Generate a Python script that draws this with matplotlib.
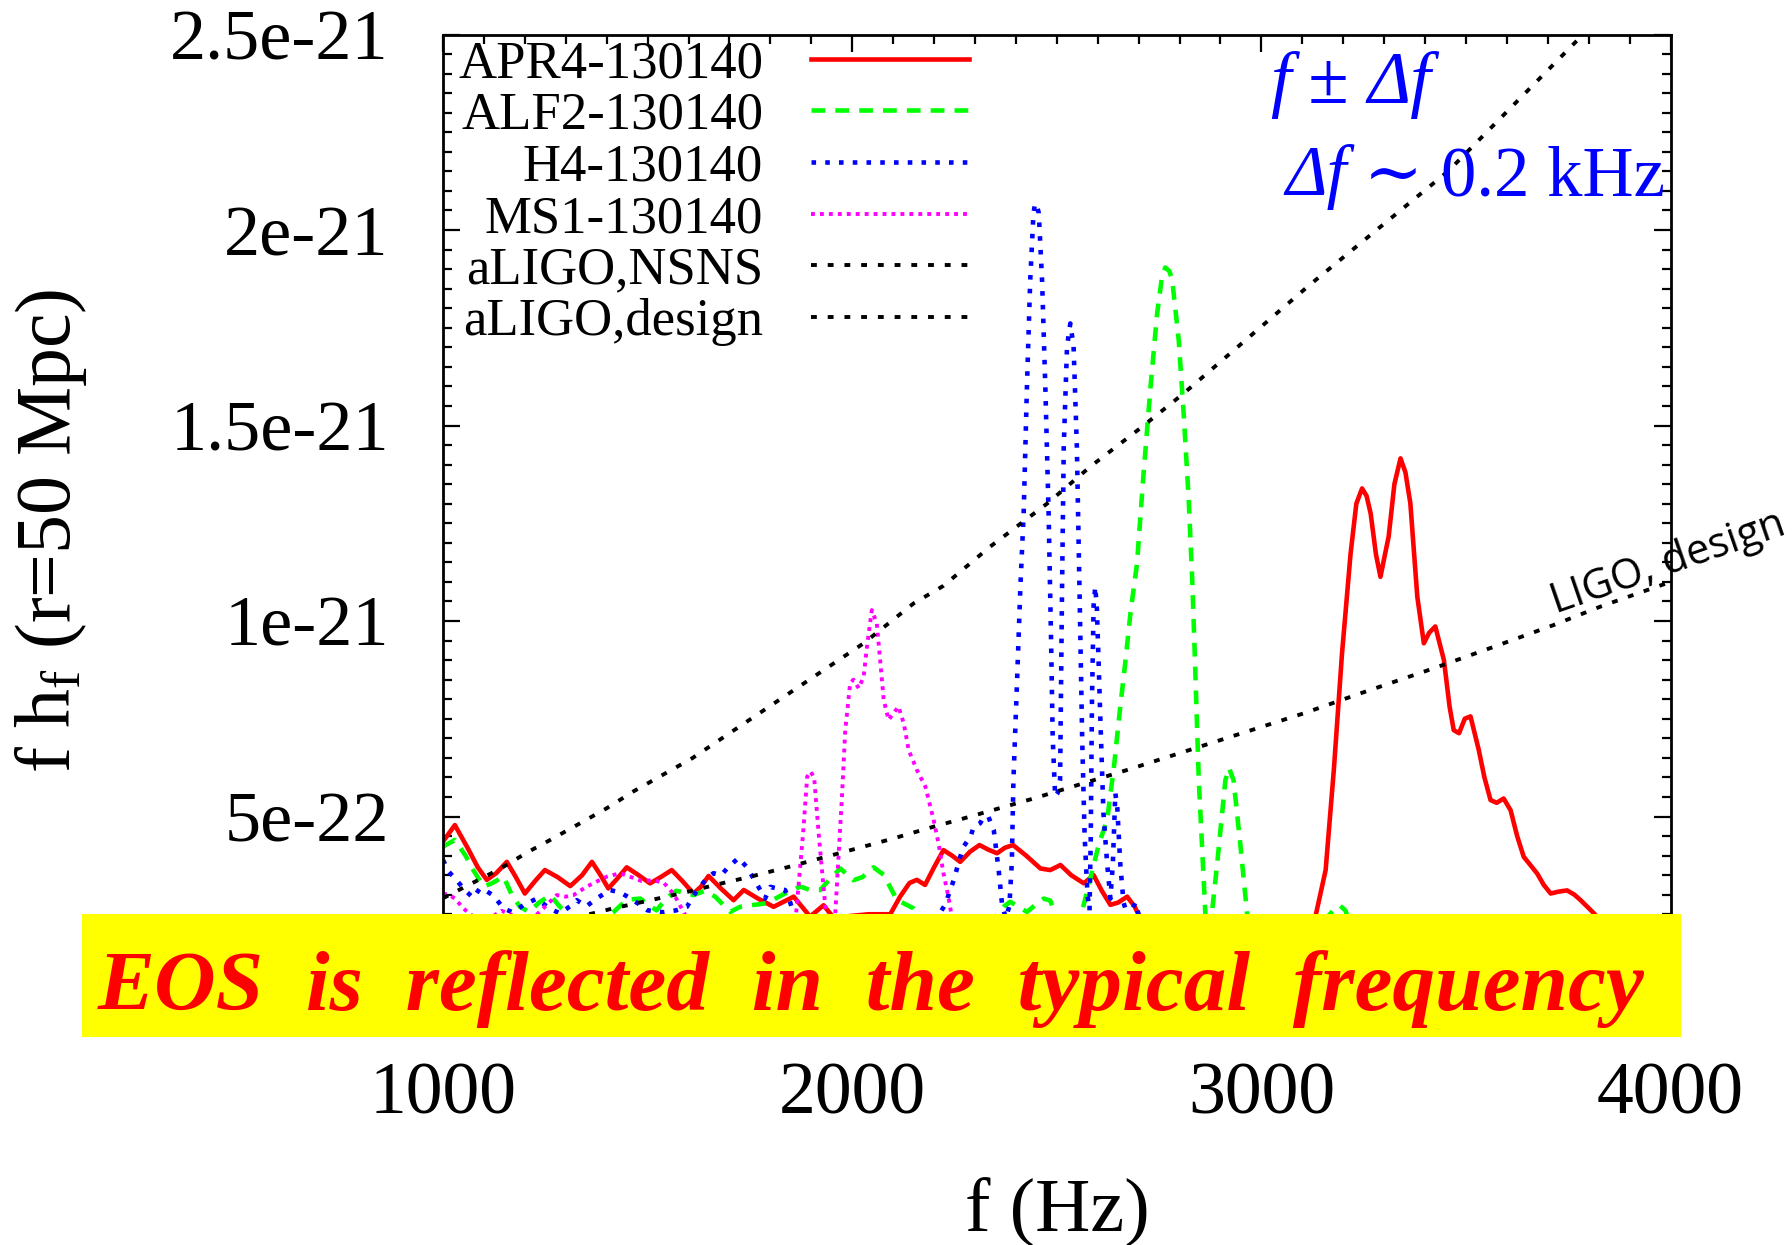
import matplotlib
matplotlib.use("Agg")
import matplotlib.pyplot as plt
from matplotlib.patches import Rectangle
from matplotlib.ticker import MultipleLocator

# ---------------- data (values in units of 1e-22) ----------------
apr4_f = [1000, 1029, 1060, 1085, 1107, 1130, 1156, 1178, 1200, 1225, 1249, 1280, 1311, 1340,
          1364, 1385, 1404, 1425, 1449, 1478, 1506, 1532, 1559, 1585, 1612, 1630, 1649, 1680,
          1710, 1735, 1770, 1808, 1857, 1897, 1930, 1963, 1990, 2040, 2093, 2117, 2140, 2158,
          2178, 2200, 2223, 2244, 2264, 2288, 2311, 2333, 2354, 2373, 2393, 2425, 2460, 2484,
          2509, 2535, 2566, 2590, 2610, 2631, 2650, 2672, 2690, 2704, 2730, 2800, 2900, 3000,
          3080, 3132, 3157, 3177, 3197, 3218, 3232, 3246, 3257, 3267, 3280, 3291, 3300, 3311,
          3325, 3340, 3352, 3364, 3381, 3397, 3410, 3425, 3446, 3460, 3470, 3483, 3497, 3511,
          3531, 3545, 3560, 3575, 3592, 3609, 3625, 3641, 3658, 3674, 3690, 3707, 3727, 3747,
          3765, 3780, 3813, 3840, 3900, 4000]
apr4_h = [4.36, 4.78, 4.2, 3.7, 3.38, 3.55, 3.84, 3.45, 3.03, 3.35, 3.63, 3.45, 3.22, 3.5,
          3.84, 3.5, 3.16, 3.4, 3.70, 3.5, 3.29, 3.45, 3.63, 3.35, 3.03, 3.2, 3.48, 3.15,
          2.86, 3.12, 2.9, 2.69, 2.95, 2.44, 2.73, 2.3, 2.45, 2.5, 2.5, 2.95, 3.3, 3.38,
          3.25, 3.7, 4.14, 4.0, 3.84, 4.1, 4.27, 4.15, 4.06, 4.2, 4.27, 4.0, 3.67, 3.63,
          3.76, 3.5, 3.29, 3.5, 3.1, 2.74, 2.8, 2.95, 2.7, 2.4, 2.1, 2.0, 1.9, 1.9,
          2.0, 2.44, 3.63, 6.19, 9.17, 11.73, 13.0, 13.39, 13.2, 12.75, 11.7, 11.13, 11.6, 12.16,
          13.5, 14.16, 13.8, 13.01, 10.62, 9.43, 9.7, 9.86, 9.0, 7.8, 7.21, 7.13, 7.5, 7.56,
          6.71, 6.0, 5.42, 5.35, 5.46, 5.16, 4.5, 3.97, 3.75, 3.54, 3.25, 3.03, 3.08, 3.11,
          3.0, 2.86, 2.52, 2.2, 1.8, 1.5]

alf2_f = [1000, 1029, 1055, 1074, 1099, 1119, 1148, 1168, 1188, 1210, 1235, 1262, 1285, 1302,
          1330, 1380, 1416, 1449, 1482, 1500, 1522, 1545, 1570, 1590, 1612, 1640, 1665, 1702,
          1726, 1760, 1791, 1830, 1873, 1897, 1922, 1945, 1971, 2003, 2025, 2052, 2077, 2109,
          2150, 2175, 2250, 2340, 2370, 2386, 2427, 2455, 2468, 2484, 2500, 2530, 2560, 2582,
          2603, 2623, 2640, 2655, 2668, 2680, 2696, 2712, 2729, 2745, 2757, 2765, 2775, 2782,
          2798, 2810, 2822, 2831, 2836, 2847, 2855, 2863, 2870, 2879, 2892, 2904, 2912, 2921,
          2932, 2949, 2965, 2980, 3050, 3150, 3180, 3192, 3205, 3220, 3300, 4000]
alf2_h = [4.23, 4.4, 4.0, 3.63, 3.21, 3.29, 3.46, 3.0, 2.69, 2.56, 2.8, 2.99, 2.7, 2.52,
          2.3, 2.35, 2.55, 2.87, 2.9, 2.75, 2.6, 2.9, 3.1, 3.05, 2.99, 3.1, 2.95, 2.56,
          2.69, 2.74, 2.78, 3.0, 3.21, 3.12, 3.12, 3.4, 3.67, 3.37, 3.45, 3.70, 3.51, 2.87,
          2.65, 2.3, 2.1, 2.3, 2.69, 2.82, 2.56, 2.8, 2.90, 2.85, 2.4, 2.1, 2.5, 3.42,
          4.3, 4.91, 6.3, 7.8, 9.0, 10.2, 11.47, 13.77, 15.98, 17.85, 18.8, 19.04, 18.95, 18.72,
          17.18, 15.3, 13.18, 11.05, 9.51, 5.93, 4.23, 2.52, 2.1, 2.52, 3.8, 5.08, 5.93, 6.24,
          5.93, 4.23, 2.52, 2.0, 2.0, 2.3, 2.65, 2.72, 2.6, 2.2, 1.8, 1.0]

h4_f = [1000, 1013, 1033, 1055, 1074, 1090, 1105, 1123, 1148, 1170, 1196, 1229, 1260, 1286,
        1310, 1327, 1350, 1375, 1408, 1435, 1465, 1500, 1540, 1570, 1596, 1620, 1645, 1661,
        1680, 1694, 1722, 1743, 1771, 1787, 1800, 1820, 1836, 1848, 1860, 1900, 2000, 2100,
        2200, 2227, 2248, 2264, 2272, 2289, 2297, 2313, 2321, 2333, 2346, 2358, 2366, 2375,
        2384, 2390, 2394, 2403, 2411, 2419, 2427, 2435, 2443, 2447, 2452, 2456, 2464, 2472,
        2480, 2486, 2490, 2496, 2502, 2508, 2513, 2517, 2525, 2533, 2541, 2549, 2556, 2562,
        2568, 2575, 2580, 2583, 2586, 2590, 2594, 2598, 2602, 2606, 2614, 2623, 2631, 2637,
        2643, 2648, 2655, 2663, 2675, 2692, 2705, 2750, 4000]
h4_h = [3.89, 3.6, 3.37, 3.1, 2.92, 3.16, 3.1, 2.98, 2.65, 2.55, 2.73, 2.9, 2.65, 2.52,
        2.7, 2.86, 2.7, 2.9, 3.12, 3.05, 2.86, 2.6, 2.55, 2.6, 2.69, 3.1, 3.42, 3.55,
        3.5, 3.67, 3.94, 3.7, 3.2, 2.9, 3.2, 3.15, 3.12, 2.82, 2.4, 2.0, 1.9, 2.0,
        2.3, 2.74, 3.37, 3.97, 4.23, 4.48, 4.74, 4.83, 4.99, 4.99, 4.65, 3.62, 2.78, 2.4,
        2.7, 3.8, 5.93, 8.5, 10.88, 12.75, 15.98, 18.71, 20.43, 20.68, 20.6, 20.43, 18.71, 15.98,
        12.75, 9.51, 7.0, 5.51, 5.6, 5.93, 11.0, 14.46, 17.02, 17.61, 17.02, 14.46, 10.5, 7.0,
        4.5, 3.0, 2.6, 4.5, 8.0, 10.4, 10.88, 10.3, 9.0, 7.64, 5.08, 3.8, 2.9, 3.8,
        5.6, 5.2, 3.8, 2.8, 2.4, 2.8, 2.3, 1.8, 1.0]

ms1_f = [1000, 1015, 1029, 1050, 1066, 1100, 1143, 1165, 1200, 1240, 1278, 1300, 1319, 1350,
         1384, 1400, 1433, 1457, 1485, 1514, 1540, 1565, 1596, 1650, 1750, 1830, 1863, 1880,
         1890, 1898, 1907, 1918, 1929, 1936, 1950, 1958, 1967, 1975, 1983, 1995, 2003, 2016,
         2028, 2036, 2048, 2060, 2069, 2077, 2089, 2101, 2113, 2126, 2138, 2158, 2179, 2199,
         2211, 2223, 2235, 2244, 2280, 2400, 4000]
ms1_h = [3.03, 3.0, 2.9, 2.65, 2.5, 2.3, 2.59, 2.5, 2.2, 2.6, 2.99, 2.95, 2.99, 3.2,
         3.38, 3.46, 3.55, 3.46, 3.35, 3.37, 3.3, 3.0, 2.4, 2.1, 2.0, 2.2, 2.53, 4.57,
         6.02, 6.15, 6.0, 4.57, 3.3, 2.5, 2.2, 2.4, 4.06, 5.51, 7.21, 8.41, 8.5, 8.28,
         8.58, 9.34, 10.28, 9.94, 8.92, 7.98, 7.47, 7.64, 7.81, 7.38, 6.70, 6.19, 5.76, 4.91,
         4.31, 3.55, 2.95, 2.4, 2.0, 1.6, 1.0]

nsns_f = [1000, 1074, 1139, 1209, 1262, 1327, 1400, 1465, 1609, 2028, 2150, 2223, 2337, 2476,
          2582, 2704, 2810, 2941, 3115, 3456, 3786, 4000]
nsns_h = [2.91, 3.31, 3.66, 4.1, 4.4, 4.78, 5.21, 5.64, 6.49, 9.43, 10.45, 10.9, 11.9, 13.0,
          13.95, 14.93, 15.82, 17.0, 18.57, 21.5, 25.0, 27.3]

design_f = [1000, 1200, 1416, 1490, 1563, 1596, 1677, 1751, 1848, 1922, 2028, 2101, 2199, 2272,
            2346, 2443, 2672, 3104, 3242, 3421, 3568, 3715, 3829, 3918, 4000]
design_h = [1.6, 2.1, 2.65, 2.82, 2.99, 3.07, 3.28, 3.46, 3.72, 3.93, 4.23, 4.44, 4.74, 4.95,
            5.17, 5.46, 6.19, 7.64, 8.15, 8.79, 9.34, 9.9, 10.37, 10.7, 11.0]

series_labels = ["APR4-130140", "ALF2-130140", "H4-130140", "MS1-130140",
                 "aLIGO,NSNS", "aLIGO,design"]
x_ticks = [1000, 2000, 3000, 4000]
x_tick_labels = ["1000", "2000", "3000", "4000"]
y_ticks = [0, 5, 10, 15, 20, 25]
y_tick_labels = ["", "5e-22", "1e-21", "1.5e-21", "2e-21", "2.5e-21"]

# ---------------- style ----------------
plt.rcParams["font.family"] = ["Liberation Serif", "DejaVu Serif"]
plt.rcParams["mathtext.fontset"] = "custom"
plt.rcParams["mathtext.rm"] = "Liberation Serif"
plt.rcParams["mathtext.it"] = "Liberation Serif:italic"
plt.rcParams["mathtext.bf"] = "Liberation Serif:bold"

W, H = 1792, 1245
fig = plt.figure(figsize=(W / 100, H / 100), dpi=100)


def fx(px):
    return px / W


def fy(py):
    return 1 - py / H


ax_l, ax_r, ax_t, ax_b = 443, 1670.6, 34.5, 1012
ax = fig.add_axes([fx(ax_l), fy(ax_b), fx(ax_r - ax_l), (ax_b - ax_t) / H])

lw = 3.3
ax.plot(apr4_f, apr4_h, color="#ff0000", lw=lw, ls="-", label=series_labels[0])
ax.plot(alf2_f, alf2_h, color="#00ff00", lw=lw, ls=(0, (3.0, 2.2)), label=series_labels[1])
ax.plot(h4_f, h4_h, color="#0000ff", lw=lw, ls=(0, (1.0, 2.0)), label=series_labels[2])
ax.plot(ms1_f, ms1_h, color="#ff00ff", lw=2.8, ls=(0, (1.0, 1.3)), label=series_labels[3])
ax.plot(nsns_f, nsns_h, color="black", lw=2.8, ls=(0, (1.5, 2.8)), label=series_labels[4])
ax.plot(design_f, design_h, color="black", lw=2.8, ls=(0, (1.5, 2.8)), label=series_labels[5])

ax.set_xlim(1000, 4000)
ax.set_ylim(0, 25)
ax.set_xticks(x_ticks)
ax.set_xticklabels(x_tick_labels)
ax.set_yticks(y_ticks)
ax.set_yticklabels(y_tick_labels)
ax.xaxis.set_minor_locator(MultipleLocator(100))
ax.yaxis.set_minor_locator(MultipleLocator(0.5))
ax.tick_params(which="both", direction="in", top=True, right=True, width=1.6, colors="black")
ax.tick_params(which="major", length=12)
ax.tick_params(which="minor", length=6.5)
ax.tick_params(axis="y", which="major", labelsize=52, pad=39)
ax.tick_params(axis="x", which="major", labelsize=53, pad=36)
for s in ax.spines.values():
    s.set_linewidth(2.0)

ax.set_ylabel(r"f h$_{\mathrm{f}}$ (r=50 Mpc)", fontsize=56, va="center", rotation_mode="anchor")
ax.yaxis.set_label_coords((51 - ax_l) / (ax_r - ax_l), (ax_b - 531) / (ax_b - ax_t))
ax.set_xlabel("f (Hz)", fontsize=55, va="center")
ax.xaxis.set_label_coords((1057 - ax_l) / (ax_r - ax_l), (ax_b - 1213) / (ax_b - ax_t))

leg = ax.legend(loc="upper right", bbox_to_anchor=(fx(969), fy(40)), bbox_transform=fig.transFigure,
                frameon=False, markerfirst=False, fontsize=38, handlelength=3.0,
                handletextpad=0.9, labelspacing=0.07, borderpad=0, borderaxespad=0)

# blue annotation text
blue = "#0000ff"
t1 = fig.text(fx(1270), fy(103), "f", color=blue, fontsize=53, style="italic", va="baseline")
t2 = ax.annotate(" \u00b1 ", xy=(1, 0), xycoords=t1, color=blue, fontsize=53, va="bottom")
t3 = ax.annotate("\u0394f", xy=(1, 0), xycoords=t2, color=blue, fontsize=53, style="italic", va="bottom")
t4 = fig.text(fx(1285), fy(195), "\u0394f", color=blue, fontsize=51, style="italic", va="baseline")
t5 = ax.annotate(" \u223c 0.2 kHz", xy=(1, 0), xycoords=t4, color=blue, fontsize=51, va="bottom")

fig.text(fx(1668), fy(563), "LIGO, design", family="Open Sans", fontsize=30, rotation=19,
         ha="center", va="center", rotation_mode="anchor", color="black")

# yellow banner
fig.add_artist(Rectangle((fx(82), fy(1037)), fx(1681 - 82), (1037 - 914) / H,
                         transform=fig.transFigure, facecolor="#ffff00", edgecolor="none", zorder=10))
fig.text(fx(871), fy(1010), "EOS  is  reflected  in  the  typical  frequency", color="#ff0000",
         fontsize=61.5, style="italic", weight="bold", ha="center", va="baseline", zorder=11)

fig.savefig("out.png", dpi=100)
